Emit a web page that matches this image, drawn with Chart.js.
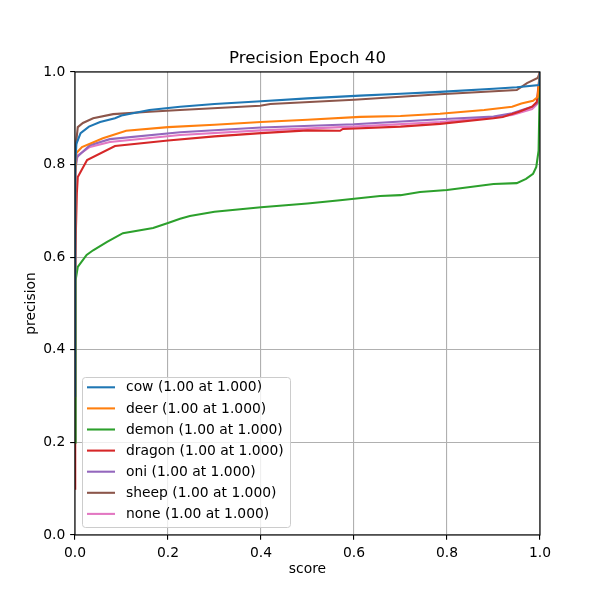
<!DOCTYPE html>
<html>
<head>
<meta charset="utf-8">
<script src="https://cdn.jsdelivr.net/npm/chart.js@4/dist/chart.umd.min.js"></script>
<style>
html,body{margin:0;padding:0;background:#fff;}
#wrap{width:600px;height:600px;}
</style>
</head>
<body>
<div id="wrap"><canvas id="c" width="600" height="600"></canvas></div>
<script>
const titleText = "Precision Epoch 40";
const xTitle = "score";
const yTitle = "precision";
const seriesNames = ["cow","deer","demon","dragon","oni","sheep","none"];
const seriesLabels = ["cow (1.00 at 1.000)","deer (1.00 at 1.000)","demon (1.00 at 1.000)","dragon (1.00 at 1.000)","oni (1.00 at 1.000)","sheep (1.00 at 1.000)","none (1.00 at 1.000)"];
const colors = ["#1f77b4","#ff7f0e","#2ca02c","#d62728","#9467bd","#8c564b","#e377c2"];

const cowScore = [0,0.0005,0.003,0.012,0.03,0.054,0.086,0.1,0.16,0.226,0.3,0.4,0.5,0.613,0.7,0.785,0.9,0.95,0.998,1.0];
const cowPrec  = [0.3,0.8,0.845,0.868,0.882,0.892,0.9,0.906,0.918,0.925,0.931,0.937,0.943,0.949,0.953,0.957,0.964,0.967,0.972,1.0];

const deerScore = [0,0.0005,0.003,0.015,0.06,0.11,0.2,0.3,0.4,0.5,0.613,0.7,0.785,0.88,0.94,0.96,0.985,0.995,1.0];
const deerPrec  = [0.3,0.78,0.825,0.838,0.857,0.873,0.881,0.886,0.892,0.897,0.903,0.905,0.91,0.918,0.925,0.932,0.938,0.946,1.0];

const demonScore = [0,0.0005,0.002,0.006,0.025,0.039,0.069,0.103,0.168,0.2,0.226,0.247,0.3,0.4,0.5,0.57,0.656,0.7,0.742,0.8,0.9,0.95,0.97,0.985,0.992,0.997,1.0];
const demonPrec  = [0.2,0.48,0.55,0.579,0.605,0.615,0.633,0.652,0.663,0.674,0.683,0.689,0.698,0.708,0.716,0.723,0.732,0.734,0.741,0.745,0.758,0.76,0.769,0.78,0.795,0.83,1.0];

const dragonScore = [0,0.0005,0.004,0.006,0.026,0.086,0.2,0.3,0.4,0.5,0.57,0.576,0.7,0.785,0.9,0.92,0.955,0.983,0.993,1.0];
const dragonPrec  = [0.1,0.6,0.739,0.773,0.81,0.84,0.852,0.861,0.868,0.874,0.873,0.877,0.882,0.888,0.9,0.903,0.914,0.925,0.935,1.0];

const oniScore = [0,0.0005,0.004,0.032,0.075,0.226,0.4,0.6,0.785,0.9,0.94,0.983,0.996,1.0];
const oniPrec  = [0.2,0.78,0.816,0.842,0.855,0.87,0.88,0.887,0.898,0.904,0.911,0.925,0.935,1.0];

const sheepScore = [0,0.0005,0.003,0.006,0.017,0.039,0.082,0.16,0.226,0.398,0.42,0.6,0.785,0.95,0.972,0.995,1.0];
const sheepPrec  = [0.3,0.82,0.853,0.881,0.89,0.9,0.909,0.914,0.918,0.927,0.931,0.94,0.952,0.961,0.976,0.987,1.0];

const noneScore = [0,0.0005,0.006,0.032,0.075,0.226,0.4,0.6,0.785,0.88,0.94,0.983,0.998,1.0];
const nonePrec  = [0.2,0.795,0.82,0.838,0.849,0.864,0.874,0.882,0.892,0.9,0.907,0.92,0.935,1.0];

const xTicks = [0,0.2,0.4,0.6,0.8,1.0];
const yTicks = [0,0.2,0.4,0.6,0.8,1.0];

const scoreArrays = [cowScore,deerScore,demonScore,dragonScore,oniScore,sheepScore,noneScore];
const precArrays = [cowPrec,deerPrec,demonPrec,dragonPrec,oniPrec,sheepPrec,nonePrec];

const FONT = "'DejaVu Sans', sans-serif";
const PX = 100/72;

const datasets = seriesNames.map((n,i)=>({
  label: seriesLabels[i],
  data: scoreArrays[i].map((s,j)=>({x:s,y:precArrays[i][j]})),
  borderColor: colors[i],
  backgroundColor: colors[i],
  borderWidth: 1.5*PX,
  pointRadius: 0,
  tension: 0,
  fill: false
}));

const framePlugin = {
  id:'frame',
  afterDatasetsDraw(chart){
    const {ctx, chartArea:a} = chart;
    ctx.save();
    ctx.strokeStyle = '#000';
    ctx.lineWidth = 0.8*PX;
    ctx.strokeRect(a.left, a.top, a.right-a.left, a.bottom-a.top);
    ctx.restore();
  }
};

const titlePlugin = {
  id:'mplTitle',
  afterDraw(chart){
    const {ctx, chartArea:a} = chart;
    ctx.save();
    ctx.font = (12*PX) + "px " + FONT;
    ctx.fillStyle = '#000';
    ctx.textAlign = 'center';
    ctx.textBaseline = 'alphabetic';
    ctx.fillText(titleText, (a.left+a.right)/2, a.top - 6*PX - 1);
    ctx.restore();
  }
};

const legendPlugin = {
  id:'mplLegend',
  afterDraw(chart){
    const ctx = chart.ctx;
    const bx = 82, by = 377, bw = 208, bh = 150, r = 3;
    ctx.save();
    ctx.beginPath();
    ctx.roundRect(bx+0.5, by+0.5, bw, bh, r);
    ctx.fillStyle = 'rgba(255,255,255,0.8)';
    ctx.fill();
    ctx.strokeStyle = '#cccccc';
    ctx.lineWidth = 1;
    ctx.stroke();
    ctx.font = (10*PX) + "px " + FONT;
    ctx.textBaseline = 'middle';
    ctx.textAlign = 'left';
    chart.data.datasets.forEach((ds,i)=>{
      const y = 387.3 + i*21.1;
      ctx.beginPath();
      ctx.moveTo(87, y);
      ctx.lineTo(115, y);
      ctx.strokeStyle = ds.borderColor;
      ctx.lineWidth = 1.5*PX;
      ctx.stroke();
      ctx.fillStyle = '#000';
      ctx.fillText(ds.label, 126, y+0.5);
    });
    ctx.restore();
  }
};

const gridOpts = {
  color:'#b0b0b0',
  lineWidth:0.8*PX,
  drawTicks:true,
  tickLength:3.5*PX,
  tickColor:'#000',
  tickWidth:0.8*PX
};

new Chart(document.getElementById('c'), {
  type:'line',
  data:{datasets},
  plugins:[framePlugin, titlePlugin, legendPlugin],
  options:{
    responsive:false,
    animation:false,
    devicePixelRatio:1,
    layout:{padding:{left:0,right:60,top:72,bottom:0}},
    plugins:{
      legend:{display:false},
      tooltip:{enabled:false},
      title:{display:false}
    },
    scales:{
      x:{
        type:'linear', min:0, max:1,
        afterFit(s){ s.height = 65; },
        afterBuildTicks(s){ s.ticks = xTicks.map(v=>({value:v})); },
        grid:gridOpts,
        border:{display:false},
        ticks:{color:'#000',padding:3.5*PX,font:{family:FONT,size:10*PX},callback:v=>Number(v).toFixed(1),maxRotation:0,autoSkip:false},
        title:{display:true,text:xTitle,color:'#000',font:{family:FONT,size:10*PX,lineHeight:1.2},padding:{top:0,bottom:22.7}}
      },
      y:{
        type:'linear', min:0, max:1,
        afterFit(s){ s.width = 75; },
        afterBuildTicks(s){ s.ticks = yTicks.map(v=>({value:v})); },
        grid:gridOpts,
        border:{display:false},
        ticks:{color:'#000',padding:3.5*PX,font:{family:FONT,size:10*PX},callback:v=>Number(v).toFixed(1),autoSkip:false},
        title:{display:true,text:yTitle,color:'#000',font:{family:FONT,size:10*PX,lineHeight:1.2},padding:{top:22.7,bottom:0}}
      }
    }
  }
});
</script>
</body>
</html>
